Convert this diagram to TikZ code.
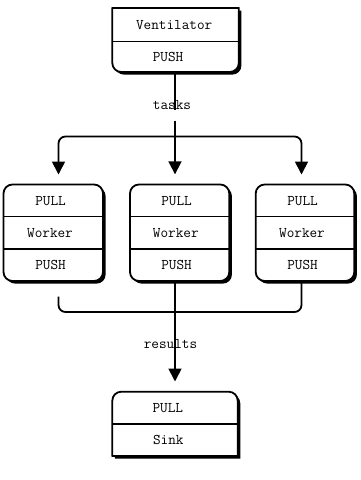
\documentclass[tikz,border=0pt]{standalone}
\usetikzlibrary{arrows.meta}
\begin{document}
\begin{tikzpicture}[x=1pt,y=-1pt,
  rr/.style n args={6}{insert path={(#1,#2+#5) arc[start angle=180,end angle=270,radius=#5] -- (#3-#5,#2) arc[start angle=270,end angle=360,radius=#5] -- (#3,#4-#6) arc[start angle=0,end angle=90,radius=#6] -- (#1+#6,#4) arc[start angle=90,end angle=180,radius=#6] -- cycle}},
  boxline/.style={draw=black,line width=1.8pt,fill=white},
  shadowfill/.style={fill=black,shift={(2.6,2.6)}},
  divline/.style={draw=black,line width=1.5pt},
  area/.style={draw=none,inner sep=0pt,rectangle},
  lbl/.style={inner sep=0pt,font=\fontsize{14.8}{17}\selectfont\ttfamily},
  conn/.style={draw=black,line width=1.8pt},
  arr/.style={-{Triangle[width=13pt,length=13pt]}}
]
\fill[white] (0,0) rectangle (360,480);
\useasboundingbox (0,0) rectangle (360,480);

% ---- Ventilator ----
\path[shadowfill,rr={112.3}{8}{238.8}{72}{0.01}{9}];
\path[boxline,rr={112.3}{8}{238.8}{72}{0.01}{9}];
\draw[divline] (112.3,41.6) -- (238.8,41.6);
\node[area,minimum width=126.5pt,minimum height=64pt] (vent) at (175.5,40) {};
\node[lbl] (ventname) at (174.2,25) {Ventilator};
\node[lbl] (ventpush) at (168,57) {PUSH};

% ---- Workers ----
\path[shadowfill,rr={3.5}{184.5}{103}{281}{9}{9}];
\path[boxline,rr={3.5}{184.5}{103}{281}{9}{9}];
\draw[divline] (3.5,216.7) -- (103,216.7);
\draw[divline] (3.5,249) -- (103,249);
\node[area,minimum width=99.5pt,minimum height=96.5pt] (w1) at (53.25,232.75) {};
\node[lbl] (w1pull) at (50.5,200.6) {PULL};
\node[lbl] (w1name) at (50,232.8) {Worker};
\node[lbl] (w1push) at (50.5,265) {PUSH};

\path[shadowfill,rr={130}{184.5}{229.3}{281}{9}{9}];
\path[boxline,rr={130}{184.5}{229.3}{281}{9}{9}];
\draw[divline] (130,216.7) -- (229.3,216.7);
\draw[divline] (130,249) -- (229.3,249);
\node[area,minimum width=99.3pt,minimum height=96.5pt] (w2) at (179.65,232.75) {};
\node[lbl] (w2pull) at (176.5,200.6) {PULL};
\node[lbl] (w2name) at (175.8,232.8) {Worker};
\node[lbl] (w2push) at (176.5,265) {PUSH};

\path[shadowfill,rr={255.7}{184.5}{354.3}{281}{9}{9}];
\path[boxline,rr={255.7}{184.5}{354.3}{281}{9}{9}];
\draw[divline] (255.7,216.7) -- (354.3,216.7);
\draw[divline] (255.7,249) -- (354.3,249);
\node[area,minimum width=98.6pt,minimum height=96.5pt] (w3) at (305,232.75) {};
\node[lbl] (w3pull) at (302.5,200.6) {PULL};
\node[lbl] (w3name) at (302,232.8) {Worker};
\node[lbl] (w3push) at (302.5,265) {PUSH};

% ---- Sink ----
\path[shadowfill,rr={112.3}{391.7}{237.7}{456}{9}{0.01}];
\path[boxline,rr={112.3}{391.7}{237.7}{456}{9}{0.01}];
\draw[divline] (112.3,424) -- (237.7,424);
\node[area,minimum width=125.4pt,minimum height=64.3pt] (sink) at (175,423.85) {};
\node[lbl] (sinkpull) at (167.8,408) {PULL};
\node[lbl] (sinkname) at (168.3,440) {Sink};

% ---- connectors ----
\coordinate (t1) at (175,110);
\coordinate (t2) at (175,120.5);
\coordinate (hub) at (175,136.5);
\coordinate (d1) at (58.5,184.5);
\coordinate (d3) at (301.5,184.5);
\coordinate (b1) at (58.5,296.5);
\coordinate (bh) at (301.5,312);

\node[lbl] (tasks) at (172,105) {tasks};
\node[lbl] (results) at (170.5,344.5) {results};

\draw[conn] (vent.south -| t1) -- (t1);
\draw[conn,arr,shorten >=10pt] (t2) -- (t2 |- w2.north);
\draw[conn,arr,rounded corners=7pt,shorten >=10pt] (hub) -| (d1);
\draw[conn,arr,rounded corners=7pt,shorten >=10pt] (hub) -| (d3);
\draw[conn,rounded corners=7pt] (b1) |- (bh) -- (w3.south -| bh);
\draw[conn,arr,shorten >=10pt] (w2.south -| t1) -- (t1 |- sink.north);
\end{tikzpicture}
\end{document}
